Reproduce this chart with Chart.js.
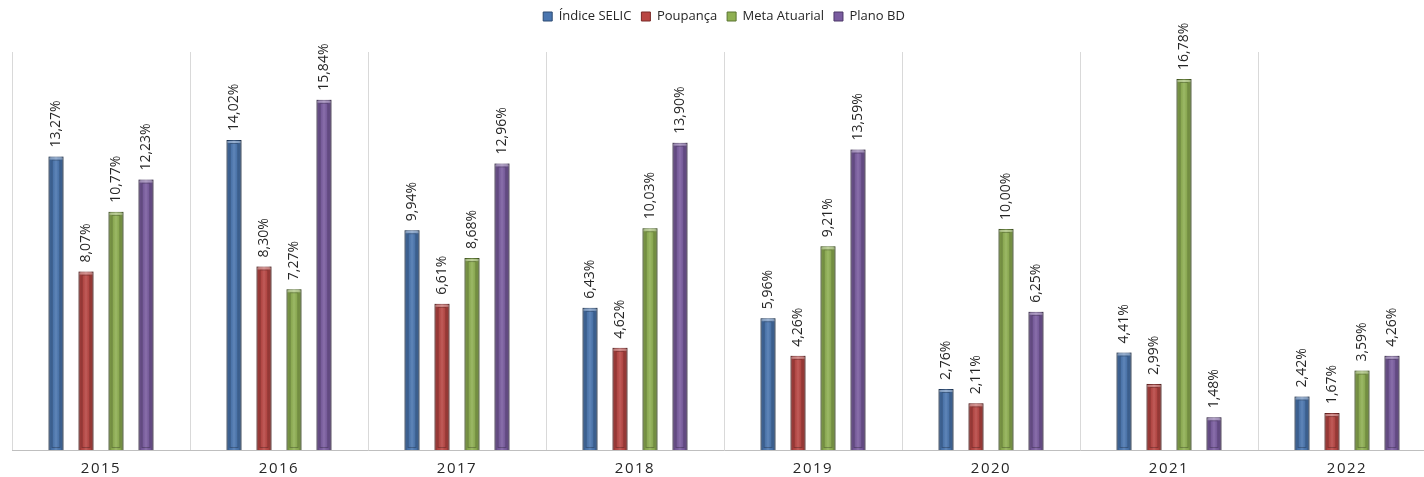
<!DOCTYPE html>
<html>
<head>
<meta charset="utf-8">
<script src="https://cdn.jsdelivr.net/npm/chart.js@4.4.1/dist/chart.umd.min.js"></script>
<style>
  html, body { margin: 0; padding: 0; overflow: hidden; background: #fff; }
  #wrap { width: 1448px; height: 488px; position: relative; }
</style>
</head>
<body>
<div id="wrap"><canvas id="ratesChart"></canvas></div>
<script>
const years = ['2015', '2016', '2017', '2018', '2019', '2020', '2021', '2022'];
const selic = [13.27, 14.02, 9.94, 6.43, 5.96, 2.76, 4.41, 2.42];
const poupanca = [8.07, 8.30, 6.61, 4.62, 4.26, 2.11, 2.99, 1.67];
const metaAtuarial = [10.77, 7.27, 8.68, 10.03, 9.21, 10.00, 16.78, 3.59];
const planoBD = [12.23, 15.84, 12.96, 13.90, 13.59, 6.25, 1.48, 4.26];

Chart.defaults.font.family = 'Open Sans';
Chart.defaults.color = '#404040';

function fmtPct(v) {
    return v.toFixed(2).replace('.', ',') + '%';
}

// extra room under the legend, spaced-out year labels
const layoutTweaks = {
    id: 'layoutTweaks',
    beforeInit(chart) {
        const fit = chart.legend.fit;
        chart.legend.fit = function () {
            fit.call(this);
            this.height += 19;
        };
    },
    beforeDraw(chart) {
        const s = chart.scales.x;
        if (s && !s._spaced) {
            const orig = s.drawLabels;
            s.drawLabels = function (area) {
                this.ctx.save();
                this.ctx.letterSpacing = '1.5px';
                orig.call(this, area);
                this.ctx.restore();
            };
            s._spaced = true;
        }
    }
};

// bevel look + rotated value labels
const barDecor = {
    id: 'barDecor',
    afterDatasetsDraw(chart) {
        const ctx = chart.ctx;
        chart.data.datasets.forEach((ds, di) => {
            const meta = chart.getDatasetMeta(di);
            meta.data.forEach((bar, i) => {
                const w = bar.width;
                const left = bar.x - w / 2;
                const top = bar.y;
                const h = bar.base - bar.y;
                ctx.save();
                const g = ctx.createLinearGradient(left, 0, left + w, 0);
                g.addColorStop(0, 'rgba(0,0,0,0.35)');
                g.addColorStop(0.22, 'rgba(0,0,0,0.05)');
                g.addColorStop(0.5, 'rgba(255,255,255,0.12)');
                g.addColorStop(0.78, 'rgba(0,0,0,0.05)');
                g.addColorStop(1, 'rgba(0,0,0,0.4)');
                ctx.fillStyle = g;
                ctx.fillRect(left, top, w, h);
                ctx.strokeStyle = 'rgba(0,0,0,0.25)';
                ctx.lineWidth = 1;
                ctx.strokeRect(left + 3.5, top + 3.5, w - 7, h - 6);
                ctx.fillStyle = 'rgba(255,255,255,0.35)';
                ctx.fillRect(left + 1, top + 1, w - 2, 2);
                ctx.restore();

                ctx.save();
                ctx.translate(bar.x, bar.y - 9);
                ctx.rotate(-Math.PI / 2);
                ctx.font = '14px "Open Sans"';
                ctx.fillStyle = '#262626';
                ctx.textAlign = 'left';
                ctx.textBaseline = 'middle';
                ctx.fillText(fmtPct(ds.data[i]), 0, 0);
                ctx.restore();
            });
        });
    }
};

const ctx = document.getElementById('ratesChart');
new Chart(ctx, {
    type: 'bar',
    data: {
        labels: years,
        datasets: [
            { label: 'Índice SELIC', data: selic, backgroundColor: '#4a76b0', borderColor: '#2c4a72', borderWidth: 1 },
            { label: 'Poupança', data: poupanca, backgroundColor: '#b94643', borderColor: '#7a2a28', borderWidth: 1 },
            { label: 'Meta Atuarial', data: metaAtuarial, backgroundColor: '#8fb052', borderColor: '#5a7430', borderWidth: 1 },
            { label: 'Plano BD', data: planoBD, backgroundColor: '#7a5ca0', borderColor: '#4d3868', borderWidth: 1 }
        ]
    },
    options: {
        responsive: true,
        maintainAspectRatio: false,
        animation: false,
        layout: { padding: { left: 12, right: 12, top: 0, bottom: 0 } },
        datasets: {
            bar: { categoryPercentage: 0.674, barPercentage: 0.5 }
        },
        scales: {
            x: {
                grid: { offset: true, drawTicks: false, color: '#d9d9d9' },
                border: { color: '#bfbfbf' },
                ticks: { padding: 10, color: '#262626', font: { size: 15 } }
            },
            y: {
                display: false,
                min: 0,
                max: 18
            }
        },
        plugins: {
            legend: {
                position: 'top',
                labels: { boxWidth: 9, boxHeight: 9, padding: 10, font: { size: 13 }, color: '#262626' }
            },
            tooltip: { enabled: false }
        }
    },
    plugins: [layoutTweaks, barDecor]
});
</script>
</body>
</html>
